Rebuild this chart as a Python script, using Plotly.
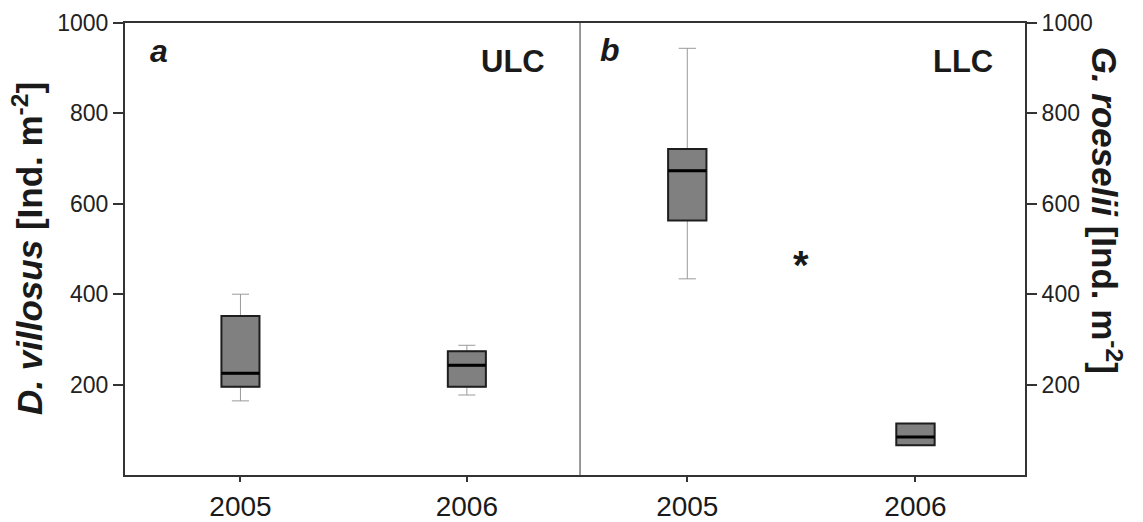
import plotly.graph_objects as go

# Sampling years (category labels on both x axes)
years = ["2005", "2006"]

# D. villosus density, upper Lake Constance (ULC) [Ind. m-2]
ulc_lower = [164, 177]
ulc_q1 = [195, 195]
ulc_median = [225, 243]
ulc_q3 = [352, 274]
ulc_upper = [400, 287]

# G. roeselii density, lower Lake Constance (LLC) [Ind. m-2]
llc_lower = [434, 66]
llc_q1 = [563, 66]
llc_median = [673, 84]
llc_q3 = [721, 114]
llc_upper = [944, 114]

y_ticks = [200, 400, 600, 800, 1000]

# Significance marker between the two LLC years
signif_x = 0.5
signif_y = 480

FONT = "Liberation Sans, Arial, Helvetica, sans-serif"
BOX_W = 0.168
positions = list(range(len(years)))
FILL = "#808080"
EDGE = "#1e1e1e"
WHISKER = "#9a9a9a"
AXIS = "#333333"


def add_panel(fig, lower, q1, median, q3, upper, xa, ya):
    # whiskers (light grey, thin)
    fig.add_trace(go.Box(
        x=positions, q1=q1, median=median, q3=q3,
        lowerfence=lower, upperfence=upper,
        width=BOX_W, whiskerwidth=0.45,
        fillcolor="rgba(0,0,0,0)", line=dict(color=WHISKER, width=1),
        boxpoints=False, hoverinfo="skip", showlegend=False,
        xaxis=xa, yaxis=ya,
    ))
    # interquartile boxes
    fig.add_trace(go.Box(
        x=positions, q1=q1, median=median, q3=q3,
        lowerfence=q1, upperfence=q3,
        width=BOX_W, whiskerwidth=0,
        fillcolor=FILL, line=dict(color=EDGE, width=2),
        boxpoints=False, hoverinfo="skip", showlegend=False,
        xaxis=xa, yaxis=ya,
    ))
    # heavy median bars
    mx, my = [], []
    for p, m in zip(positions, median):
        mx += [p - BOX_W / 2, p + BOX_W / 2, None]
        my += [m, m, None]
    fig.add_trace(go.Scatter(
        x=mx, y=my, mode="lines", line=dict(color="#000000", width=3),
        hoverinfo="skip", showlegend=False, xaxis=xa, yaxis=ya,
    ))


fig = go.Figure()
add_panel(fig, ulc_lower, ulc_q1, ulc_median, ulc_q3, ulc_upper, "x", "y")
add_panel(fig, llc_lower, llc_q1, llc_median, llc_q3, llc_upper, "x2", "y2")

SPLIT = 0.5056

xcommon = dict(
    tickvals=positions, ticktext=years, showline=True, linecolor=AXIS,
    linewidth=2, mirror=True, ticks="outside", ticklen=5, tickwidth=1.5,
    tickcolor=AXIS, tickfont=dict(family=FONT, size=28, color="#1a1a1a"),
    showgrid=False, zeroline=False, fixedrange=True, automargin=False,
)
ycommon = dict(
    range=[0, 1000], tickvals=y_ticks, ticktext=[str(v) for v in y_ticks],
    showline=True, linecolor=AXIS, linewidth=2, ticks="outside", ticklen=10,
    tickwidth=1.5, tickcolor=AXIS,
    tickfont=dict(family=FONT, size=23, color="#222222"),
    showgrid=False, zeroline=False, fixedrange=True, automargin=False,
)

fig.update_layout(
    width=1143, height=522,
    margin=dict(l=125, r=118, t=23, b=47, autoexpand=False),
    paper_bgcolor="white", plot_bgcolor="white",
    boxmode="overlay",
    xaxis=dict(domain=[0, SPLIT], range=[-0.51, 1.5], anchor="y", **xcommon),
    xaxis2=dict(domain=[SPLIT, 1], range=[-0.47, 1.48], anchor="y2", **xcommon),
    yaxis=dict(anchor="x", side="left", **ycommon),
    yaxis2=dict(anchor="x2", side="right", **ycommon),
    shapes=[dict(type="line", xref="paper", yref="paper", x0=SPLIT, x1=SPLIT,
                 y0=0, y1=1, line=dict(color=AXIS, width=1))],
)

ann = [
    dict(text="<b><i>a</i></b>", x=0.0256, y=0.938, xanchor="left",
         font=dict(size=32)),
    dict(text="<b>ULC</b>", x=0.469, y=0.914, xanchor="right",
         font=dict(size=31)),
    dict(text="<b><i>b</i></b>", x=0.5256, y=0.940, xanchor="left",
         font=dict(size=32)),
    dict(text="<b>LLC</b>", x=0.9667, y=0.914, xanchor="right",
         font=dict(size=31)),
    dict(text="<b><i>D. villosus</i> [Ind. m<sup>-2</sup>]</b>",
         x=-0.108, y=0.502, xanchor="center", textangle=-90,
         font=dict(size=35)),
    dict(text="<b><i>G. roeselii</i> [Ind. m<sup>-2</sup>]</b>",
         x=1.091, y=0.585, xanchor="center", textangle=90,
         font=dict(size=35)),
]
for a in ann:
    a.update(xref="paper", yref="paper", yanchor="middle", showarrow=False)
    a["font"].update(family=FONT, color="#1a1a1a")
    fig.add_annotation(**a)

fig.add_annotation(
    text="<b>*</b>", x=signif_x, y=signif_y, xref="x2", yref="y2",
    showarrow=False, yshift=-7, font=dict(family=FONT, size=40, color="#1a1a1a"),
)

fig.write_html("out.html")
